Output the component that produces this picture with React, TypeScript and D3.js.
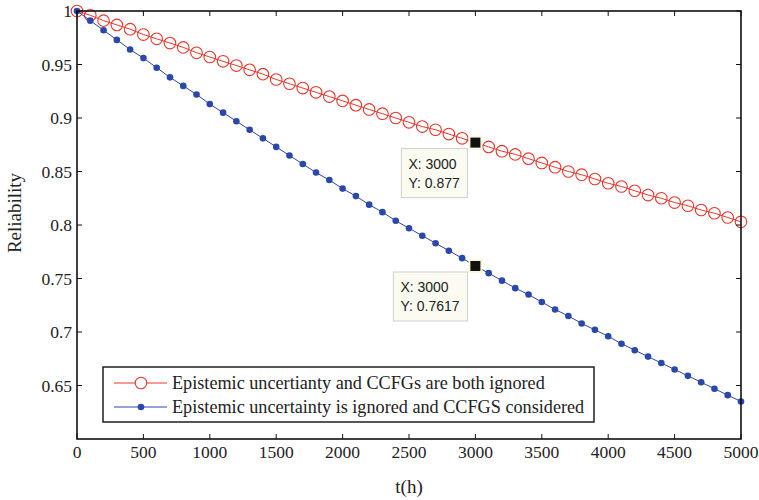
import React from "react";
import { scaleLinear, line, range } from "d3";

// hours sampled every 100 h
const hours = range(0, 5001, 100);

// Epistemic uncertainty and CCFGs both ignored
const ignoredBoth = [
  1.0, 0.996, 0.991, 0.987, 0.983, 0.978, 0.974, 0.97, 0.966, 0.961,
  0.957, 0.953, 0.949, 0.945, 0.941, 0.936, 0.932, 0.928, 0.924, 0.92,
  0.916, 0.912, 0.908, 0.904, 0.9, 0.896, 0.892, 0.889, 0.885, 0.881,
  0.877, 0.873, 0.869, 0.866, 0.862, 0.858, 0.854, 0.85, 0.847, 0.843,
  0.839, 0.836, 0.832, 0.828, 0.825, 0.821, 0.818, 0.814, 0.811, 0.807,
  0.803,
];

// Epistemic uncertainty ignored, CCFGs considered
const ccfgConsidered = [
  1.0, 0.991, 0.982, 0.973, 0.964, 0.956, 0.947, 0.938, 0.93, 0.922,
  0.913, 0.905, 0.897, 0.889, 0.881, 0.873, 0.865, 0.857, 0.849, 0.842,
  0.834, 0.827, 0.819, 0.812, 0.804, 0.797, 0.79, 0.783, 0.776, 0.769,
  0.7617, 0.755, 0.748, 0.741, 0.735, 0.728, 0.721, 0.715, 0.708, 0.702,
  0.696, 0.689, 0.683, 0.677, 0.671, 0.665, 0.659, 0.653, 0.647, 0.641,
  0.635,
];

const xTicks = range(0, 5001, 500);
const yTicks = [0.65, 0.7, 0.75, 0.8, 0.85, 0.9, 0.95, 1];

const legendLabels = [
  "Epistemic uncertianty and CCFGs are both ignored",
  "Epistemic uncertainty is ignored and CCFGS considered",
];

const tips = [
  { x: 3000, y: 0.877, label: "0.877" },
  { x: 3000, y: 0.7617, label: "0.7617" },
];

const RED = "#e8372c";
const BLUE = "#2b47aa";
const serif = { fontFamily: "Liberation Serif, serif" };
const sans = { fontFamily: "Liberation Sans, sans-serif" };

export default function App() {
  const width = 759;
  const height = 500;
  const margin = { left: 77, top: 11, right: 18, bottom: 61 };
  const innerW = width - margin.left - margin.right;
  const innerH = height - margin.top - margin.bottom;

  const x = scaleLinear().domain([0, 5000]).range([0, innerW]);
  const y = scaleLinear().domain([0.6, 1]).range([innerH, 0]);

  const path = line<number>()
    .x((_, i) => x(hours[i]))
    .y((d) => y(d));

  const tick = 5;

  return (
    <svg
      width={width}
      height={height}
      style={{ position: "absolute", left: 0, top: 0, background: "#fff" }}
    >
      <g transform={`translate(${margin.left},${margin.top})`}>
        {/* series */}
        <path d={path(ignoredBoth) || ""} fill="none" stroke={RED} strokeWidth={1} />
        {ignoredBoth.map((d, i) => (
          <circle
            key={"r" + i}
            cx={x(hours[i])}
            cy={y(d)}
            r={5.8}
            fill="none"
            stroke={RED}
            strokeWidth={1.1}
          />
        ))}
        <path d={path(ccfgConsidered) || ""} fill="none" stroke={BLUE} strokeWidth={1} />
        {ccfgConsidered.map((d, i) => (
          <circle key={"b" + i} cx={x(hours[i])} cy={y(d)} r={3.3} fill={BLUE} />
        ))}

        {/* axes box */}
        <rect x={0} y={0} width={innerW} height={innerH} fill="none" stroke="#111" strokeWidth={1.6} />
        {xTicks.map((t) => (
          <g key={"xt" + t}>
            <line x1={x(t)} x2={x(t)} y1={innerH} y2={innerH - tick} stroke="#111" />
            <line x1={x(t)} x2={x(t)} y1={0} y2={tick} stroke="#111" />
            <text
              x={x(t)}
              y={innerH + 19}
              textAnchor="middle"
              style={{ ...serif, fontSize: 17.5 }}
              fill="#222"
            >
              {t}
            </text>
          </g>
        ))}
        {yTicks.map((t) => (
          <g key={"yt" + t}>
            <line x1={0} x2={tick} y1={y(t)} y2={y(t)} stroke="#111" />
            <line x1={innerW} x2={innerW - tick} y1={y(t)} y2={y(t)} stroke="#111" />
            <text
              x={-5}
              y={y(t)}
              dy="0.35em"
              textAnchor="end"
              style={{ ...serif, fontSize: 17.5 }}
              fill="#222"
            >
              {t}
            </text>
          </g>
        ))}

        {/* data tips */}
        {tips.map((tp, i) => {
          const px = x(tp.x);
          const py = y(tp.y);
          const bx = i === 0 ? px - 74 : px - 82;
          const bw = i === 0 ? 66 : 74;
          return (
            <g key={"tip" + i}>
              <rect x={bx} y={py + 6} width={bw} height={49} fill="#fbfbf1" stroke="#cfcfcf" strokeWidth={1} />
              <text x={bx + 7} y={py + 26} style={{ ...sans, fontSize: 14 }} fill="#222">
                X: {tp.x}
              </text>
              <text x={bx + 7} y={py + 45} style={{ ...sans, fontSize: 14 }} fill="#222">
                Y: {tp.label}
              </text>
              <rect x={px - 7} y={py - 7} width={14} height={14} fill="#fbf8dc" />
              <rect x={px - 5} y={py - 5} width={10} height={10} fill="#111" />
            </g>
          );
        })}
      </g>

      {/* legend */}
      <g transform="translate(103,367)">
        <rect x={0} y={0} width={491} height={55} fill="#fff" stroke="#111" strokeWidth={1.4} />
        {legendLabels.map((lab, i) => {
          const ly = 16 + i * 24;
          const color = i === 0 ? RED : BLUE;
          return (
            <g key={"lg" + i}>
              <line x1={11} x2={64} y1={ly} y2={ly} stroke={color} strokeWidth={1} />
              {i === 0 ? (
                <circle cx={38} cy={ly} r={5.8} fill="#fff" stroke={color} strokeWidth={1.1} />
              ) : (
                <circle cx={38} cy={ly} r={3.3} fill={color} />
              )}
              <text x={69} y={ly} dy="0.35em" style={{ ...serif, fontSize: 18.2 }} fill="#222">
                {lab}
              </text>
            </g>
          );
        })}
      </g>

      {/* axis labels */}
      <text
        x={margin.left + innerW / 2}
        y={493}
        textAnchor="middle"
        style={{ ...serif, fontSize: 19 }}
        fill="#222"
      >
        t(h)
      </text>
      <text
        transform="translate(21,213) rotate(-90)"
        textAnchor="middle"
        style={{ ...serif, fontSize: 19 }}
        fill="#222"
      >
        Reliability
      </text>
    </svg>
  );
}
